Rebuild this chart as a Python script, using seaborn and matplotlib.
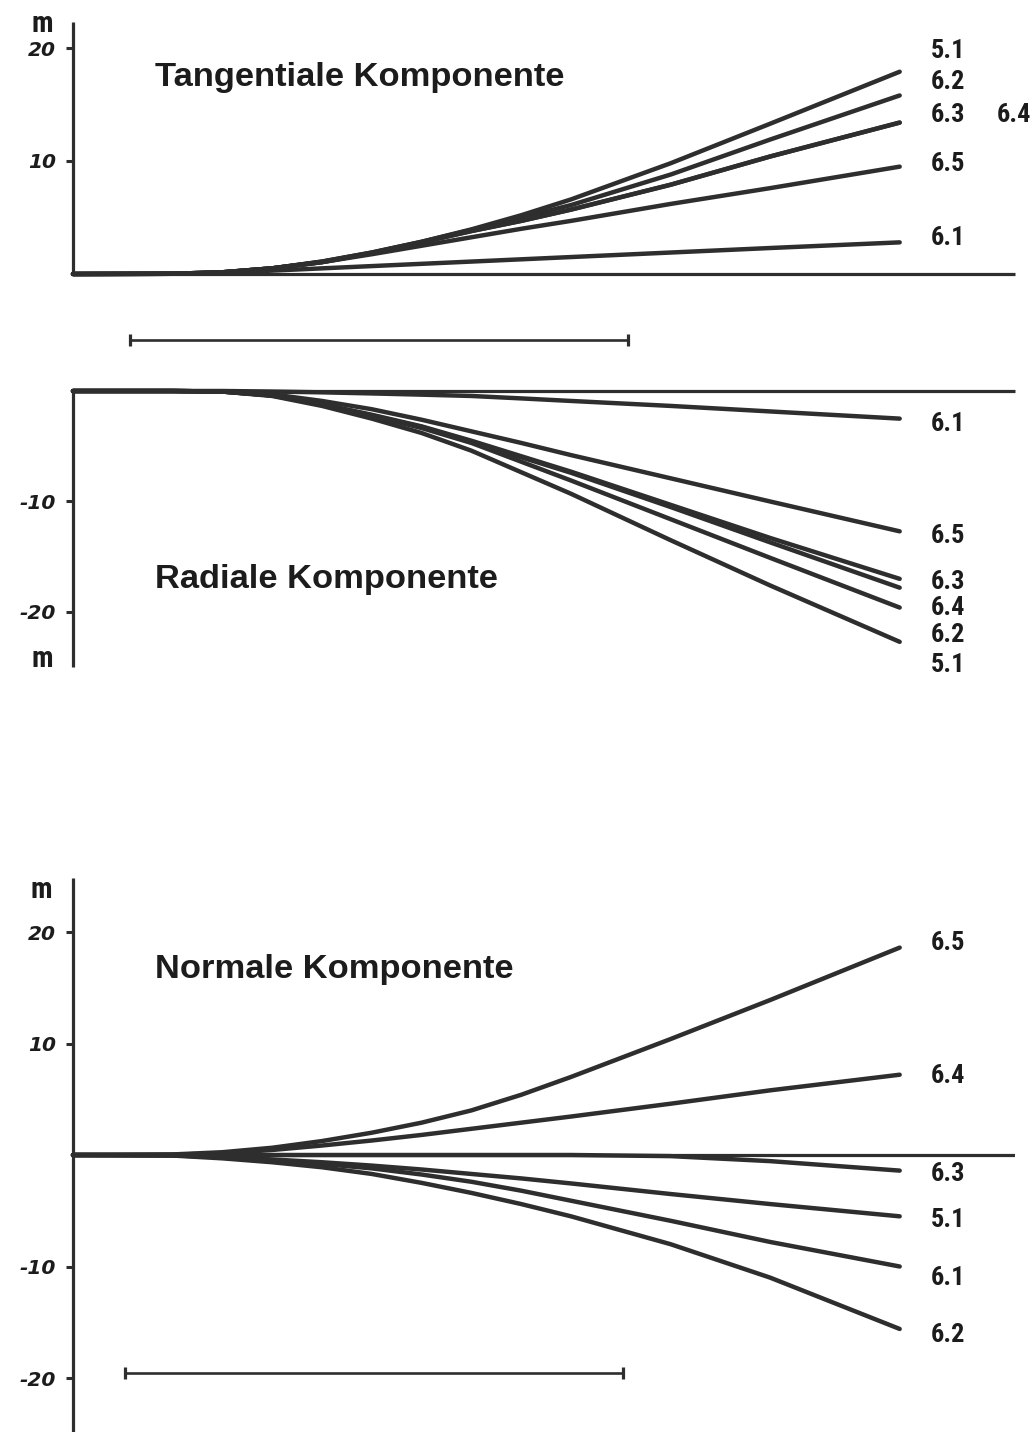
import matplotlib
matplotlib.use("Agg")
import matplotlib.pyplot as plt
from matplotlib import font_manager
import pandas as pd
import seaborn as sns

# ---------------------------------------------------------------------------
# Displacement components (m) along the profile; scale bar = 10 distance units
# ---------------------------------------------------------------------------
distance = [0, 2, 3, 4, 5, 6, 7, 8, 9, 10, 12, 14, 16.6]

# Tangentiale Komponente
tang_5_1 = [0, 0.02, 0.15, 0.5, 1.1, 1.9, 2.85, 3.95, 5.2, 6.6, 9.8, 13.3, 17.9]
tang_6_2 = [0, 0.02, 0.15, 0.5, 1.1, 1.9, 2.85, 3.9, 5.0, 6.1, 8.8, 11.9, 15.8]
tang_6_3 = [0, 0.02, 0.15, 0.5, 1.05, 1.85, 2.8, 3.8, 4.7, 5.7, 7.9, 10.4, 13.4]
tang_6_4 = [0, 0.02, 0.15, 0.5, 1.05, 1.85, 2.8, 3.8, 4.7, 5.7, 7.9, 10.4, 13.4]
tang_6_5 = [0, 0.02, 0.15, 0.5, 1.05, 1.75, 2.5, 3.25, 4.0, 4.7, 6.2, 7.6, 9.5]
tang_6_1 = [0, 0.02, 0.1, 0.3, 0.5, 0.7, 0.9, 1.1, 1.3, 1.5, 1.9, 2.3, 2.8]

# Radiale Komponente
rad_6_1 = [0, 0, 0, -0.05, -0.12, -0.22, -0.33, -0.45, -0.67, -0.9, -1.35, -1.85, -2.5]
rad_6_5 = [0, 0, -0.05, -0.3, -0.9, -1.65, -2.6, -3.65, -4.7, -5.8, -7.9, -10.0, -12.7]
rad_6_3 = [0, 0, -0.05, -0.4, -1.2, -2.15, -3.2, -4.5, -5.9, -7.3, -10.3, -13.3, -17.0]
rad_6_4 = [0, 0, -0.05, -0.4, -1.2, -2.2, -3.25, -4.6, -6.0, -7.4, -10.5, -13.7, -17.8]
rad_6_2 = [0, 0, -0.05, -0.4, -1.25, -2.25, -3.35, -4.7, -6.4, -8.1, -11.6, -15.1, -19.6]
rad_5_1 = [0, 0, -0.05, -0.45, -1.35, -2.5, -3.8, -5.4, -7.35, -9.3, -13.5, -17.6, -22.7]

# Normale Komponente
norm_6_5 = [0, 0.05, 0.25, 0.65, 1.25, 2.0, 2.9, 4.0, 5.4, 7.0, 10.4, 13.9, 18.6]
norm_6_4 = [0, 0.03, 0.15, 0.45, 0.85, 1.3, 1.8, 2.35, 2.9, 3.45, 4.6, 5.8, 7.2]
norm_6_3 = [0, 0, 0, 0, 0, 0, 0, 0, 0, 0, -0.1, -0.55, -1.4]
norm_5_1 = [0, -0.03, -0.15, -0.4, -0.65, -0.95, -1.3, -1.7, -2.1, -2.55, -3.5, -4.4, -5.5]
norm_6_1 = [0, -0.03, -0.2, -0.45, -0.8, -1.2, -1.75, -2.4, -3.2, -4.1, -5.9, -7.8, -10.0]
norm_6_2 = [0, -0.05, -0.3, -0.65, -1.1, -1.7, -2.5, -3.4, -4.4, -5.5, -8.0, -11.0, -15.6]

tang_ticks = [10, 20]
rad_ticks = [-10, -20]
norm_ticks = [20, 10, -10, -20]

titles = ["Tangentiale Komponente", "Radiale Komponente", "Normale Komponente"]
unit_label = "m"
scale_length = 10


def long_frame(series):
    rows = []
    for name, values in series.items():
        for x, y in zip(distance, values):
            rows.append({"Entfernung": x, "Verschiebung": y, "Messpunkt": name})
    return pd.DataFrame(rows)


tang_df = long_frame({"5.1": tang_5_1, "6.2": tang_6_2, "6.3": tang_6_3,
                      "6.4": tang_6_4, "6.5": tang_6_5, "6.1": tang_6_1})
rad_df = long_frame({"6.1": rad_6_1, "6.5": rad_6_5, "6.3": rad_6_3,
                     "6.4": rad_6_4, "6.2": rad_6_2, "5.1": rad_5_1})
norm_df = long_frame({"6.5": norm_6_5, "6.4": norm_6_4, "6.3": norm_6_3,
                      "5.1": norm_5_1, "6.1": norm_6_1, "6.2": norm_6_2})

# ---------------------------------------------------------------------------
# Styling
# ---------------------------------------------------------------------------
sns.set_theme(style="white")
plt.rcParams["font.family"] = ["Liberation Sans", "DejaVu Sans"]
plt.rcParams["axes.unicode_minus"] = False

installed = {f.name for f in font_manager.fontManager.ttflist}
narrow_family = ["DejaVu Sans"]
narrow_size = 16
unit_size = 17
for cand in ("Liberation Sans Narrow", "DejaVu Sans Condensed", "Roboto Condensed",
             "Open Sans Condensed"):
    if cand in installed:
        narrow_family = [cand, "DejaVu Sans"]
        narrow_size = 19
        unit_size = 21
        break

INK = "#1c1c1c"
LINE = "#2e2e2e"
CURVE_LW = 3.2
SPINE_LW = 2.3

W, H = 1033, 1432
PX_PER_UNIT = 49.8
AX_LEFT, AX_RIGHT = 73, 1015
X_MAX = (AX_RIGHT - AX_LEFT) / PX_PER_UNIT


def rect(top_px, bottom_px):
    return [AX_LEFT / W, 1 - bottom_px / H, (AX_RIGHT - AX_LEFT) / W, (bottom_px - top_px) / H]


fig = plt.figure(figsize=(W / 100, H / 100), dpi=100)
fig.patch.set_facecolor("white")

ax_t = fig.add_axes(rect(22, 274))
ax_r = fig.add_axes(rect(391, 667))
ax_n = fig.add_axes(rect(878, 1432))


def draw_panel(ax, df, ylim, ticks, visible_spines):
    names = list(dict.fromkeys(df["Messpunkt"]))
    sns.lineplot(data=df, x="Entfernung", y="Verschiebung", hue="Messpunkt",
                 palette={n: LINE for n in names}, hue_order=names,
                 estimator=None, sort=False, legend=False, linewidth=CURVE_LW,
                 solid_capstyle="round", solid_joinstyle="round", clip_on=False, ax=ax)
    ax.set_xlim(0, X_MAX)
    ax.set_ylim(*ylim)
    ax.set_xlabel("")
    ax.set_ylabel("")
    ax.set_xticks([])
    ax.set_yticks(ticks)
    ax.set_yticklabels([str(t) for t in ticks])
    ax.tick_params(axis="y", direction="out", length=5, width=2.2, pad=7,
                   labelsize=14.5, colors=LINE, labelcolor=INK, left=True)
    for lab in ax.get_yticklabels():
        lab.set_fontstyle("italic")
        lab.set_fontweight("bold")
        lab.set_family(["DejaVu Sans"])
    for side, sp in ax.spines.items():
        sp.set_visible(side in visible_spines)
        sp.set_linewidth(SPINE_LW)
        sp.set_color(LINE)
        sp.set_capstyle("butt")
    ax.patch.set_alpha(0)


draw_panel(ax_t, tang_df, (0, (274 - 22) / 11.3), tang_ticks, ("left", "bottom"))
draw_panel(ax_r, rad_df, (-(667 - 391) / 11.05, 0), rad_ticks, ("left", "top"))
draw_panel(ax_n, norm_df, (-(1432 - 1155) / 11.15, (1155 - 878) / 11.15), norm_ticks, ("left",))
ax_n.axhline(0, color=LINE, linewidth=SPINE_LW, zorder=1)

# Panel titles
title_kw = dict(fontsize=24.8, fontweight="bold", color=INK, va="center", ha="left",
                family=["Liberation Sans", "DejaVu Sans"])
ax_t.text(1.65, 17.4, titles[0], **title_kw)
ax_r.text(1.65, -17.1, titles[1], **title_kw)
ax_n.text(1.65, 16.6, titles[2], **title_kw)

# Series labels at the right-hand ends
label_kw = dict(fontsize=narrow_size, fontweight="bold", fontstretch="condensed", color=INK,
                va="center", ha="left", family=narrow_family)
lx = (931 - AX_LEFT) / PX_PER_UNIT
lx_side = (997 - AX_LEFT) / PX_PER_UNIT
tang_labels = [("5.1", lx, 19.7), ("6.2", lx, 17.0), ("6.3", lx, 14.1),
               ("6.4", lx_side, 14.1), ("6.5", lx, 9.7), ("6.1", lx, 3.2)]
rad_labels = [("6.1", lx, -3.0), ("6.5", lx, -13.1), ("6.3", lx, -17.3),
              ("6.4", lx, -19.6), ("6.2", lx, -22.1), ("5.1", lx, -24.8)]
norm_labels = [("6.5", lx, 19.0), ("6.4", lx, 7.1), ("6.3", lx, -1.7),
               ("5.1", lx, -5.8), ("6.1", lx, -11.0), ("6.2", lx, -16.1)]
for ax, labels in ((ax_t, tang_labels), (ax_r, rad_labels), (ax_n, norm_labels)):
    for text, x, y in labels:
        ax.text(x, y, text, clip_on=False, **label_kw)

# Unit labels
unit_kw = dict(fontsize=unit_size, fontweight="bold", color=INK, ha="center", va="center",
               family=narrow_family)
fig.text(42 / W, 1 - 24 / H, unit_label, **unit_kw)
fig.text(42 / W, 1 - 659 / H, unit_label, **unit_kw)
fig.text(41 / W, 1 - 890 / H, unit_label, **unit_kw)


# Scale bars
def scale_bar(ax, x0, y):
    xs = [x0, x0 + scale_length]
    ax.plot(xs, [y, y], color=LINE, linewidth=1.9, clip_on=False, solid_capstyle="butt")
    ax.plot(xs, [y, y], linestyle="none", marker="|", markersize=9,
            markeredgewidth=2.3, color=LINE, clip_on=False)


scale_bar(ax_r, (130 - AX_LEFT) / PX_PER_UNIT, (391 - 340) / 11.05)
scale_bar(ax_n, (125 - AX_LEFT) / PX_PER_UNIT, (1155 - 1373) / 11.15)

fig.savefig("out.png", dpi=100, facecolor="white")
